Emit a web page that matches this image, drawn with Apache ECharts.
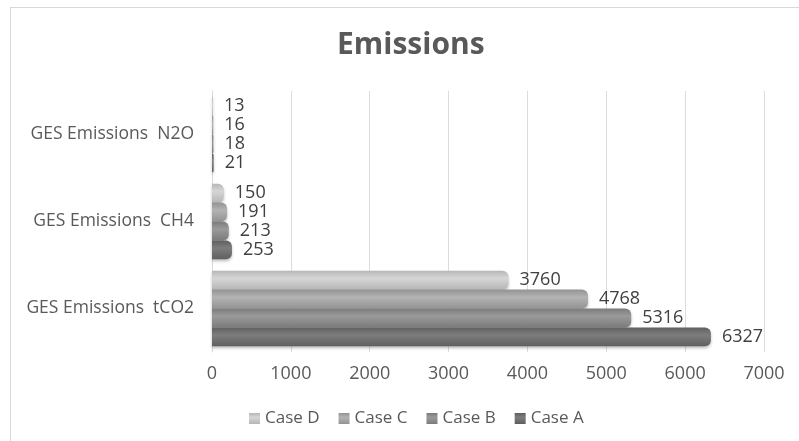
<!DOCTYPE html>
<html>
<head>
<meta charset="utf-8">
<script src="https://cdn.jsdelivr.net/npm/echarts@6/dist/echarts.min.js"></script>
<style>
  html, body { margin: 0; padding: 0; background: #fff; }
  #chart { width: 799px; height: 441px; }
  #frame { position: absolute; left: 10px; top: 7px; width: 800px; height: 450px; border: 1px solid #d9d9d9; box-sizing: border-box; pointer-events: none; }
</style>
</head>
<body>
<div id="chart"></div>
<div id="frame"></div>
<script>
// Emission categories (bottom to top) and values per case
const categories = ['GES Emissions  tCO2', 'GES Emissions  CH4', 'GES Emissions  N2O'];
const caseNames = ['Case D', 'Case C', 'Case B', 'Case A'];
const caseA = [6327, 253, 21];
const caseB = [5316, 213, 18];
const caseC = [4768, 191, 16];
const caseD = [3760, 150, 13];
const xTicks = { min: 0, max: 7000, interval: 1000 };

// Listed top to bottom within each category band
const seriesData = [caseD, caseC, caseB, caseA];
const baseColors = [
  ['#b6b6b6', '#d6d6d6'],
  ['#939393', '#b3b3b3'],
  ['#7b7b7b', '#9a9a9a'],
  ['#5f5f5f', '#7d7d7d']
];
const legendColors = ['#c8c8c8', '#a6a6a6', '#8c8c8c', '#6e6e6e'];

const FONT = '"Open Sans", "Liberation Sans", sans-serif';

function cylinder(c) {
  return new echarts.graphic.LinearGradient(0, 0, 0, 1, [
    { offset: 0, color: c[0] },
    { offset: 0.4, color: c[1] },
    { offset: 1, color: c[0] }
  ]);
}

const chart = echarts.init(document.getElementById('chart'), null, { renderer: 'canvas' });
chart.setOption({
  animation: false,
  backgroundColor: '#ffffff',
  title: {
    text: 'Emissions',
    left: 332,
    top: 25,
    textStyle: { fontFamily: FONT, fontSize: 30, fontWeight: 'bold', color: '#595959' }
  },
  legend: {
    data: caseNames,
    top: 405,
    left: 244,
    itemWidth: 11,
    itemHeight: 11,
    itemGap: 19,
    icon: 'rect',
    textStyle: { fontFamily: FONT, fontSize: 17, color: '#595959' }
  },
  grid: { left: 212, right: 35, top: 91, bottom: 89, containLabel: false },
  xAxis: {
    type: 'value',
    min: xTicks.min,
    max: xTicks.max,
    interval: xTicks.interval,
    axisLine: { show: false },
    axisTick: { show: false },
    axisLabel: {
      fontFamily: FONT, fontSize: 18, color: '#595959', margin: 13,
      formatter: v => String(v)
    },
    splitLine: { show: true, lineStyle: { color: '#dcdcdc', width: 1 } }
  },
  yAxis: {
    type: 'category',
    data: categories,
    axisLine: { show: true, lineStyle: { color: '#d9d9d9' } },
    axisTick: { show: false },
    axisLabel: { fontFamily: FONT, fontSize: 17.5, color: '#595959', margin: 18 }
  },
  series: caseNames.map((name, i) => ({
    name: name,
    type: 'bar',
    data: seriesData[i],
    barGap: '0%',
    barCategoryGap: '13%',
    itemStyle: {
      color: cylinder(baseColors[i]),
      borderRadius: [0, 6, 6, 0],
      shadowColor: 'rgba(0,0,0,0.25)',
      shadowBlur: 3,
      shadowOffsetY: 2
    },
    label: {
      show: true,
      position: 'right',
      distance: 11,
      fontFamily: FONT,
      fontSize: 18,
      color: '#404040'
    },
    color: legendColors[i]
  }))
});
</script>
</body>
</html>
